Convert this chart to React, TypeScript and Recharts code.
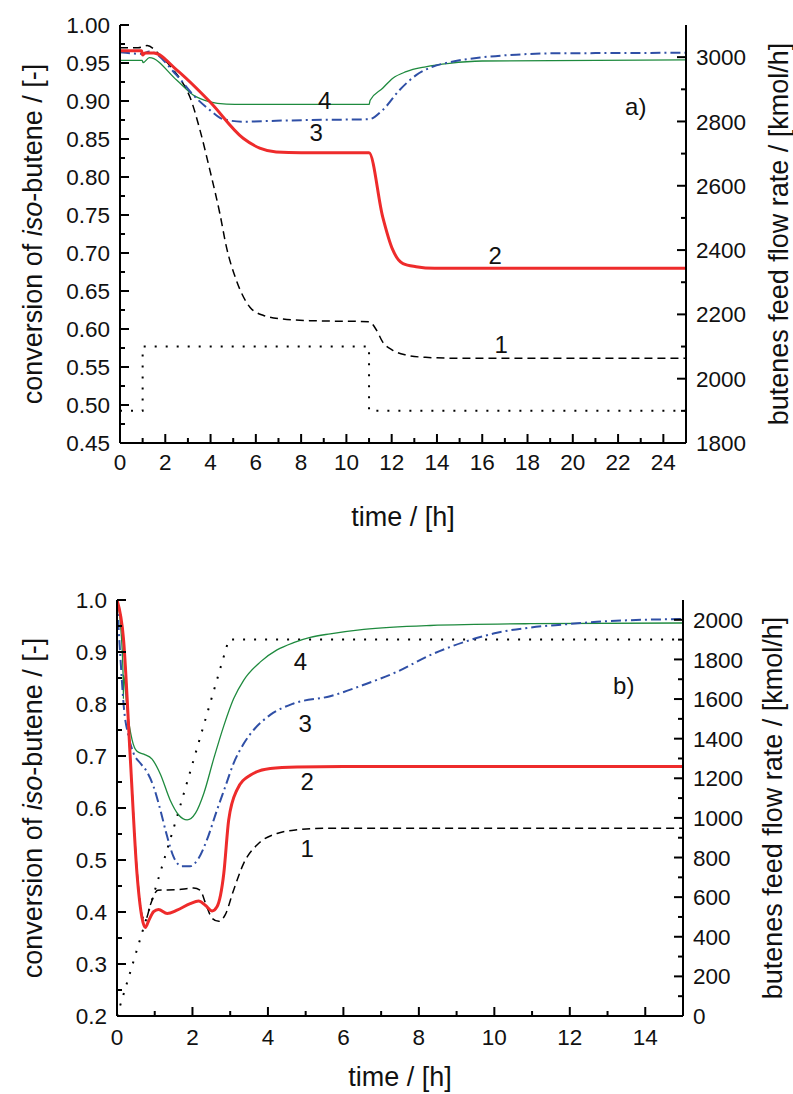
import React from "react"
import { ComposedChart, Line, XAxis, YAxis, ReferenceDot } from "recharts"

const FONT = '"Liberation Sans", Arial, Helvetica, sans-serif'
const RED = "#ee2b2b"
const BLUE = "#2f4fa6"
const GREEN = "#1e8a3e"

// ---------- panel a) ----------
const aTime1 = [0, 0.8, 1.2, 1.76, 2.3, 2.79, 3.08, 3.53, 3.97, 4.41, 4.7, 5.14, 5.73, 6.32, 7.2, 8.37, 11, 11.32, 11.6, 12.05, 12.6, 13.5, 15, 25]
const aConv1 = [0.97, 0.97, 0.973, 0.9605, 0.943, 0.923, 0.906, 0.862, 0.809, 0.752, 0.708, 0.664, 0.629, 0.618, 0.613, 0.611, 0.6096, 0.599, 0.583, 0.572, 0.566, 0.5627, 0.5615, 0.5614]

const aTime2 = [0, 0.95, 1.0, 1.1, 1.5, 2.5, 3.97, 5.44, 6.17, 6.9, 8, 11, 11.6, 12.05, 12.5, 13.08, 13.9, 25]
const aConv2 = [0.966, 0.966, 0.9605, 0.963, 0.963, 0.941, 0.899, 0.851, 0.838, 0.833, 0.832, 0.832, 0.748, 0.704, 0.686, 0.682, 0.68, 0.68]

const aTime3 = [0, 1.0, 1.3, 2.5, 3.23, 3.97, 4.56, 5.44, 6.9, 8.37, 11, 11.6, 12.35, 13.08, 13.8, 14.55, 16, 17.5, 19, 21, 25]
const aConv3 = [0.964, 0.962, 0.965, 0.934, 0.908, 0.888, 0.876, 0.8728, 0.874, 0.875, 0.876, 0.888, 0.9145, 0.934, 0.945, 0.951, 0.9575, 0.961, 0.9627, 0.963, 0.9635]

const aTime4 = [0, 0.98, 1.02, 1.3, 2.5, 3.23, 3.97, 4.7, 5.44, 11, 11.05, 11.6, 12.05, 12.64, 13.5, 14.55, 16, 25]
const aConv4 = [0.9535, 0.9535, 0.9505, 0.957, 0.9276, 0.908, 0.899, 0.896, 0.8955, 0.8955, 0.901, 0.9167, 0.93, 0.9386, 0.945, 0.9496, 0.9526, 0.954]

const aFeedTime = [0, 1, 1, 11, 11, 25]
const aFeed = [1900, 1900, 2100, 2100, 1900, 1900]

const aNotes = [
  { t: 9.04, v: 0.901, text: "4" },
  { t: 8.67, v: 0.858, text: "3" },
  { t: 16.57, v: 0.697, text: "2" },
  { t: 16.84, v: 0.579, text: "1" },
  { t: 22.78, v: 0.8925, text: "a)" },
]

// ---------- panel b) ----------
const bTime1 = [0, 0.175, 0.35, 0.53, 0.68, 0.75, 0.9, 1.08, 1.59, 2.03, 2.2, 2.38, 2.52, 2.7, 2.87, 3.09, 3.36, 3.71, 4.24, 4.77, 5.57, 8, 15]
const bConv1 = [1.0, 0.92, 0.7, 0.48, 0.39, 0.385, 0.417, 0.442, 0.443, 0.446, 0.442, 0.41, 0.388, 0.382, 0.395, 0.442, 0.494, 0.529, 0.551, 0.558, 0.561, 0.561, 0.561]

const bTime2 = [0, 0.175, 0.35, 0.53, 0.66, 0.75, 0.85, 0.97, 1.1, 1.33, 1.59, 1.94, 2.16, 2.34, 2.52, 2.65, 2.83, 2.96, 3.18, 3.53, 4.06, 4.77, 6, 15]
const bConv2 = [1.0, 0.923, 0.699, 0.474, 0.39, 0.37, 0.385, 0.4006, 0.405, 0.397, 0.4035, 0.416, 0.421, 0.413, 0.402, 0.41, 0.474, 0.577, 0.635, 0.663, 0.676, 0.679, 0.68, 0.68]

const bTime3 = [0, 0.09, 0.18, 0.31, 0.44, 0.62, 0.79, 0.97, 1.15, 1.33, 1.5, 1.72, 1.94, 2.16, 2.38, 2.65, 2.87, 3.09, 3.36, 3.62, 4.06, 4.68, 5.65, 6.54, 7.42, 8.3, 9.19, 10.07, 10.95, 11.84, 12.72, 15]
const bConv3 = [1.0, 0.89, 0.795, 0.737, 0.705, 0.686, 0.67, 0.641, 0.596, 0.545, 0.506, 0.488, 0.488, 0.503, 0.538, 0.596, 0.641, 0.686, 0.724, 0.75, 0.779, 0.801, 0.815, 0.837, 0.862, 0.894, 0.919, 0.937, 0.947, 0.953, 0.958, 0.9635]

const bTime4 = [0, 0.09, 0.16, 0.17, 0.18, 0.26, 0.4, 0.53, 0.71, 0.93, 1.15, 1.41, 1.63, 1.86, 2.08, 2.3, 2.56, 2.83, 3.09, 3.36, 3.8, 4.24, 4.68, 5.12, 5.65, 6.54, 8.3, 10.95, 15]
const bConv4 = [1.0, 0.955, 0.86, 0.81, 0.855, 0.795, 0.731, 0.709, 0.7035, 0.694, 0.665, 0.615, 0.587, 0.577, 0.59, 0.628, 0.694, 0.758, 0.81, 0.846, 0.881, 0.904, 0.918, 0.928, 0.935, 0.9436, 0.951, 0.9544, 0.9558]

const bFeedTime = [0, 1.59, 2.96, 15]
const bFeed = [0, 1005, 1900, 1900]

const bNotes = [
  { t: 4.86, v: 0.881, text: "4" },
  { t: 4.99, v: 0.763, text: "3" },
  { t: 5.04, v: 0.651, text: "2" },
  { t: 5.04, v: 0.5225, text: "1" },
  { t: 13.43, v: 0.8365, text: "b)" },
]

const zip = (ts: number[], vs: number[], key: string) => ts.map((t, i) => ({ t, [key]: vs[i] }))
const range = (a: number, b: number, step: number) => {
  const out: number[] = []
  for (let i = 0; a + i * step <= b + 1e-9; i++) out.push(+(a + i * step).toFixed(4))
  return out
}
const near = (a: number, b: number) => Math.abs(a - b) < 1e-6

type Side = "left" | "right" | "bottom" | "top"

const TICK_FONT = 22.5

// ticks point into the plot, minor ticks get no label
function makeTick(side: Side, majors: number[], fmt: (v: number) => string, gap: number) {
  return (props: any) => {
    const x = Number(props.x)
    const y = Number(props.y)
    const v = props.payload.value
    const major = majors.some((m) => near(m, v))
    const len = major ? 9 : 5
    const ln = { stroke: "#000", strokeWidth: 2 }
    const txt = { fontSize: TICK_FONT, fontFamily: FONT, fill: "#111" }
    if (side === "left") {
      const ax = x + gap
      return (
        <g>
          <path d={`M${ax},${y}H${ax + len}`} {...ln} />
          {major && <text x={x} y={y} dy="0.36em" textAnchor="end" {...txt}>{fmt(v)}</text>}
        </g>
      )
    }
    if (side === "right") {
      const ax = x - gap
      return (
        <g>
          <path d={`M${ax},${y}H${ax - len}`} {...ln} />
          {major && <text x={x} y={y} dy="0.36em" textAnchor="start" {...txt}>{fmt(v)}</text>}
        </g>
      )
    }
    if (side === "bottom") {
      const ay = y - gap
      return (
        <g>
          <path d={`M${x},${ay}V${ay - len}`} {...ln} />
          {major && <text x={x} y={y} dy="0.72em" textAnchor="middle" {...txt}>{fmt(v)}</text>}
        </g>
      )
    }
    const ay = y + gap
    return (
      <g>
        <path d={`M${x},${ay}V${ay + len}`} {...ln} />
      </g>
    )
  }
}

const leftTitle = (dx: number) => (props: any) => {
  const vb = props.viewBox
  const x = vb.x + dx
  const y = vb.y + vb.height / 2
  return (
    <text x={x} y={y} transform={`rotate(-90, ${x}, ${y})`} textAnchor="middle" dominantBaseline="central" fontSize={27} fontFamily={FONT} fill="#111">
      <tspan>conversion of </tspan>
      <tspan fontStyle="italic">iso</tspan>
      <tspan>-butene / [-]</tspan>
    </text>
  )
}

const rightTitle = (dx: number) => (props: any) => {
  const vb = props.viewBox
  const x = vb.x + dx
  const y = vb.y + vb.height / 2
  return (
    <text x={x} y={y} transform={`rotate(-90, ${x}, ${y})`} textAnchor="middle" dominantBaseline="central" fontSize={27} fontFamily={FONT} fill="#111">
      butenes feed flow rate / [kmol/h]
    </text>
  )
}

const timeTitle = (dy: number) => (props: any) => {
  const vb = props.viewBox
  return (
    <text x={vb.x + vb.width / 2} y={vb.y + dy} textAnchor="middle" dominantBaseline="central" fontSize={27} fontFamily={FONT} fill="#111">
      time / [h]
    </text>
  )
}

const noteLabel = (text: string) => (props: any) => {
  const vb = props.viewBox
  return (
    <text x={vb.x + vb.width / 2} y={vb.y + vb.height / 2} textAnchor="middle" dominantBaseline="central" fontSize={24} fontFamily={FONT} fill="#111">
      {text}
    </text>
  )
}

interface PanelProps {
  width: number
  height: number
  margin: { top: number; right: number; bottom: number; left: number }
  leftW: number
  rightW: number
  xMax: number
  xTicks: number[]
  xMajors: number[]
  yDomain: [number, number]
  yTicks: number[]
  yMajors: number[]
  yFmt: (v: number) => string
  fDomain: [number, number]
  fTicks: number[]
  fMajors: number[]
  xTitleDy: number
  xTickGap: number
  rightTitleDx: number
  series: { t: number[]; v: number[] }[]
  feed: { t: number[]; v: number[] }
  notes: { t: number; v: number; text: string }[]
}

function Panel(p: PanelProps) {
  const [s1, s2, s3, s4] = p.series
  const axisLine = { stroke: "#000", strokeWidth: 2 }
  return (
    <ComposedChart width={p.width} height={p.height} margin={p.margin}>
      <XAxis
        type="number"
        dataKey="t"
        domain={[0, p.xMax]}
        allowDataOverflow
        ticks={p.xTicks}
        interval={0}
        tickSize={0}
        tickMargin={p.xTickGap}
        tickLine={false}
        axisLine={axisLine}
        height={60}
        tick={makeTick("bottom", p.xMajors, (v) => String(v), p.xTickGap)}
        label={timeTitle(p.xTitleDy)}
      />
      <XAxis
        xAxisId="top"
        orientation="top"
        type="number"
        dataKey="t"
        domain={[0, p.xMax]}
        allowDataOverflow
        ticks={p.xTicks}
        interval={0}
        tickSize={0}
        tickMargin={2}
        tickLine={false}
        axisLine={axisLine}
        height={0}
        tick={makeTick("top", p.xMajors, () => "", 2)}
      />
      <YAxis
        yAxisId="left"
        type="number"
        domain={p.yDomain}
        allowDataOverflow
        ticks={p.yTicks}
        interval={0}
        tickSize={0}
        tickMargin={10}
        tickLine={false}
        axisLine={axisLine}
        width={p.leftW}
        tick={makeTick("left", p.yMajors, p.yFmt, 10)}
        label={leftTitle(33)}
      />
      <YAxis
        yAxisId="right"
        orientation="right"
        type="number"
        domain={p.fDomain}
        allowDataOverflow
        ticks={p.fTicks}
        interval={0}
        tickSize={0}
        tickMargin={10}
        tickLine={false}
        axisLine={axisLine}
        width={p.rightW}
        tick={makeTick("right", p.fMajors, (v) => String(v), 10)}
        label={rightTitle(p.rightTitleDx)}
      />
      <Line yAxisId="right" data={zip(p.feed.t, p.feed.v, "f")} dataKey="f" type="linear" stroke="#000" strokeWidth={2} strokeDasharray="2 9" dot={false} activeDot={false} isAnimationActive={false} />
      <Line yAxisId="left" data={zip(s1.t, s1.v, "c")} dataKey="c" type="monotone" stroke="#000" strokeWidth={1.5} strokeDasharray="8 5" dot={false} activeDot={false} isAnimationActive={false} />
      <Line yAxisId="left" data={zip(s4.t, s4.v, "c")} dataKey="c" type="monotone" stroke={GREEN} strokeWidth={1.3} dot={false} activeDot={false} isAnimationActive={false} />
      <Line yAxisId="left" data={zip(s3.t, s3.v, "c")} dataKey="c" type="monotone" stroke={BLUE} strokeWidth={2} strokeDasharray="10 4 2 4" dot={false} activeDot={false} isAnimationActive={false} />
      <Line yAxisId="left" data={zip(s2.t, s2.v, "c")} dataKey="c" type="monotone" stroke={RED} strokeWidth={3} dot={false} activeDot={false} isAnimationActive={false} />
      {p.notes.map((n) => (
        <ReferenceDot key={n.text} yAxisId="left" x={n.t} y={n.v} r={0} fill="none" stroke="none" label={noteLabel(n.text)} />
      ))}
    </ComposedChart>
  )
}

export default function App() {
  return (
    <div style={{ position: "absolute", left: 0, top: 0, width: 793, height: 1094, background: "#fff" }}>
      <div style={{ position: "absolute", left: 0, top: 0 }}>
        <Panel
          width={793}
          height={550}
          margin={{ top: 25, right: 0, bottom: 47, left: 0 }}
          leftW={120}
          rightW={107}
          xMax={25}
          xTicks={range(0, 24, 1)}
          xMajors={range(0, 24, 2)}
          yDomain={[0.45, 1.0]}
          yTicks={range(0.45, 1.0, 0.025)}
          yMajors={range(0.45, 1.0, 0.05)}
          yFmt={(v) => v.toFixed(2)}
          fDomain={[1800, 3100]}
          fTicks={range(1800, 3000, 100)}
          fMajors={range(1800, 3000, 200)}
          xTitleDy={74}
          xTickGap={11}
          rightTitleDx={93}
          series={[
            { t: aTime1, v: aConv1 },
            { t: aTime2, v: aConv2 },
            { t: aTime3, v: aConv3 },
            { t: aTime4, v: aConv4 },
          ]}
          feed={{ t: aFeedTime, v: aFeed }}
          notes={aNotes}
        />
      </div>
      <div style={{ position: "absolute", left: 0, top: 560 }}>
        <Panel
          width={793}
          height={534}
          margin={{ top: 40, right: 0, bottom: 18, left: 0 }}
          leftW={117}
          rightW={110}
          xMax={15}
          xTicks={range(0, 14, 1)}
          xMajors={range(0, 14, 2)}
          yDomain={[0.2, 1.0]}
          yTicks={range(0.2, 1.0, 0.05)}
          yMajors={range(0.2, 1.0, 0.1)}
          yFmt={(v) => v.toFixed(1)}
          fDomain={[0, 2100]}
          fTicks={range(0, 2000, 100)}
          fMajors={range(0, 2000, 200)}
          xTitleDy={61}
          xTickGap={13}
          rightTitleDx={90}
          series={[
            { t: bTime1, v: bConv1 },
            { t: bTime2, v: bConv2 },
            { t: bTime3, v: bConv3 },
            { t: bTime4, v: bConv4 },
          ]}
          feed={{ t: bFeedTime, v: bFeed }}
          notes={bNotes}
        />
      </div>
    </div>
  )
}
